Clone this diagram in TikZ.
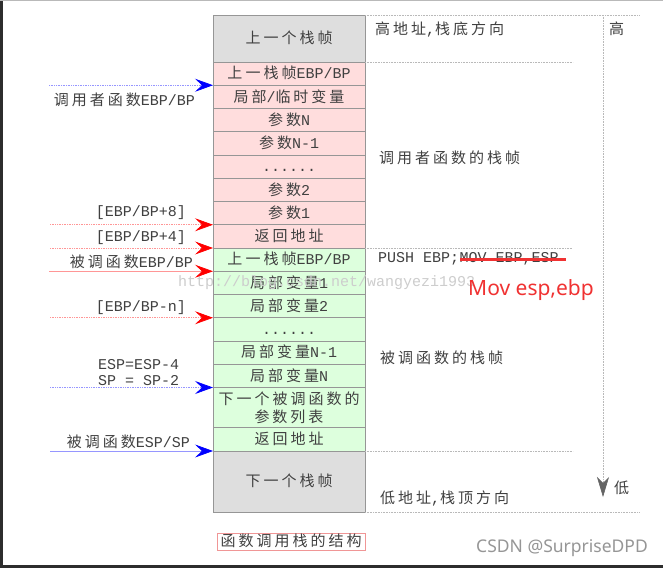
\documentclass[tikz,border=0pt]{standalone}
\usepackage{fontspec}
\setmainfont[LetterSpace=20]{Noto Sans CJK SC}
\newfontfamily\latn{Liberation Mono}
\newfontfamily\sansf{Noto Sans}
\usetikzlibrary{arrows.meta,positioning}
\definecolor{txt}{RGB}{64,64,64}
\definecolor{pinkfill}{RGB}{255,221,221}
\definecolor{greenfill}{RGB}{221,255,221}
\definecolor{grayfill}{RGB}{222,222,222}
\definecolor{cellline}{RGB}{150,150,150}
\definecolor{guidegray}{RGB}{185,185,185}
\definecolor{lblue}{RGB}{150,150,255}
\definecolor{lred}{RGB}{255,150,150}
\definecolor{tipgray}{RGB}{100,100,100}
\definecolor{wm}{RGB}{205,205,205}
\definecolor{redtxt}{RGB}{240,50,50}
\definecolor{capbox}{RGB}{240,150,150}
\definecolor{csdn}{RGB}{150,150,150}
\definecolor{frame}{RGB}{45,45,45}
\begin{document}
\begin{tikzpicture}[x=1pt,y=-1pt,
  fs/.style={font=\fontsize{15pt}{18pt}\selectfont},
  cellbase/.style={fs, draw=cellline, line width=0.6pt, minimum width=152pt, inner sep=0pt, outer sep=0pt, text=txt, anchor=north, align=center},
  cell/.style={cellbase, text height=12.5pt, text depth=2pt},
  pinkc/.style={cell, fill=pinkfill, minimum height=23.25pt},
  greenc/.style={cell, fill=greenfill, minimum height=23.25pt},
  grayc/.style={cell, fill=grayfill},
  lbl/.style={fs, text=txt, inner sep=0pt},
  guide/.style={draw=guidegray, densely dotted, line width=0.6pt},
  bptr/.style={line width=0.7pt, -{Stealth[length=18pt,width=13pt,inset=7pt,color=blue]}},
  rptr/.style={line width=0.7pt, -{Stealth[length=18pt,width=13pt,inset=7pt,color=red]}},
]
\useasboundingbox (0,0) rectangle (663,568);
\fill[white] (0,0) rectangle (663,568);
\fill[frame] (0,0) rectangle (2.5,568);
\fill[frame] (0,565) rectangle (663,568);
\draw[guidegray, line width=0.6pt] (0,0.4) -- (663,0.4);

% stack column
\node[grayc, minimum height=47pt] (top) at (289,15) {上一个栈帧};
\node[pinkc] (r1) at (top.south) {上一栈帧{\latn EBP/BP}};
\node[pinkc] (r2) at (r1.south) {局部{\latn /}临时变量};
\node[pinkc] (r3) at (r2.south) {参数{\latn N}};
\node[pinkc] (r4) at (r3.south) {参数{\latn N-1}};
\node[pinkc] (r5) at (r4.south) {{\latn ......}};
\node[pinkc] (r6) at (r5.south) {参数{\latn 2}};
\node[pinkc] (r7) at (r6.south) {参数{\latn 1}};
\node[pinkc] (r8) at (r7.south) {返回地址};
\node[greenc] (g1) at (r8.south) {上一栈帧{\latn EBP/BP}};
\node[greenc] (g2) at (g1.south) {局部变量{\latn 1}};
\node[greenc] (g3) at (g2.south) {局部变量{\latn 2}};
\node[greenc] (g4) at (g3.south) {{\latn ......}};
\node[greenc] (g5) at (g4.south) {局部变量{\latn N-1}};
\node[greenc] (g6) at (g5.south) {局部变量{\latn N}};
\node[cellbase, fill=greenfill, minimum height=40.25pt, font=\fontsize{15pt}{18pt}\selectfont] (g7) at (g6.south) {下一个被调函数的\\参数列表};
\node[greenc] (g8) at (g7.south) {返回地址};
\node[grayc, minimum height=61pt] (bot) at (g8.south) {下一个栈帧};

% right guides
\coordinate (e1) at (640,15);
\coordinate (e2) at (573,62);
\coordinate (e3) at (572,248);
\coordinate (e4) at (573,451);
\coordinate (e5) at (640,512);
\draw[guide] (top.north east) -- (e1);
\draw[guide] (top.south east) -- (e2);
\draw[guide] (r8.south east) -- (e3);
\draw[guide] (g8.south east) -- (e4);
\draw[guide] (bot.south east) -- (e5);
\coordinate (vtop) at (603,15);
\coordinate (vbot) at (603,497);
\draw[guide, -{Stealth[length=20pt,width=12pt,inset=6pt,color=tipgray]}] (vtop) -- (vbot);
\node[lbl, anchor=west] (hi) at (609,29) {高};
\node[lbl, anchor=west] (lo) at (614,488) {低};

% right texts
\node[lbl, anchor=west] (t1) at (375,29) {高地址{\latn ,}栈底方向};
\node[lbl, anchor=west] (t2) at (379,158) {调用者函数的栈帧};
\node[lbl, anchor=west] (push) at (378,259) {{\latn PUSH EBP;}};
\node[lbl, anchor=west] (mov) at (push.east) {{\latn MOV EBP,ESP}};
\node[lbl, anchor=west] (t3) at (380,358) {被调函数的栈帧};
\node[lbl, anchor=west] (t4) at (380,498) {低地址{\latn ,}栈顶方向};

% watermark
\node[inner sep=0pt, anchor=west, text=wm, font=\latn\fontsize{15pt}{17pt}\selectfont] (wmk) at (178,283) {http://blog.csdn.net/wangyezi1993};

\draw[redtxt, line width=3pt] ([xshift=1pt]mov.west) -- ([xshift=7pt]mov.east);
\node[inner sep=0pt, anchor=west, text=redtxt, font=\sansf\fontsize{21pt}{24pt}\selectfont] (fix) at (468,290) {Mov esp,ebp};

% left pointers
\path (r1.south west) ++(-164,0) coordinate (c1);
\path (r7.south west) ++(-163,0) coordinate (c2);
\path (r8.south west) ++(-163,0) coordinate (c3);
\path (g1.south west) ++(-164,0) coordinate (c4);
\path (g3.south west) ++(-163,0) coordinate (c5);
\path (g6.south west) ++(-163,0) coordinate (c6);
\path (g8.south west) ++(-163,0) coordinate (c7);
\draw[bptr, draw=lblue, densely dotted] (c1) -- (r1.south west);
\draw[rptr, draw=lred, densely dotted] (c2) -- (r7.south west);
\draw[rptr, draw=lred, densely dotted] (c3) -- (r8.south west);
\draw[rptr, draw=lred] (c4) -- (g1.south west);
\draw[rptr, draw=lred, densely dotted] (c5) -- (g3.south west);
\draw[bptr, draw=lblue, densely dotted] (c6) -- (g6.south west);
\draw[bptr, draw=lblue] (c7) -- (g8.south west);

\node[lbl, anchor=east] (l1) at (195,100) {调用者函数{\latn EBP/BP}};
\node[lbl, anchor=east] (l2) at (186,213) {{\latn [EBP/BP+8]}};
\node[lbl, anchor=east] (l3) at (186,238) {{\latn [EBP/BP+4]}};
\node[lbl, anchor=east] (l4) at (193,262) {被调函数{\latn EBP/BP}};
\node[lbl, anchor=east] (l5) at (186,308) {{\latn [EBP/BP-n]}};
\node[lbl, anchor=west, align=left, font=\latn\fontsize{15pt}{16pt}\selectfont] (l6) at (98,373) {ESP=ESP-4\\SP = SP-2};
\node[lbl, anchor=east] (l7) at (190,442) {被调函数{\latn ESP/SP}};

% caption and credit
\node[fs, draw=capbox, line width=0.6pt, text=txt, minimum width=148pt, minimum height=17pt, inner sep=0pt, text height=12.5pt, text depth=2pt] (cap) at (291,541.5) {函数调用栈的结构};
\node[inner sep=0pt, anchor=east, text=csdn, font=\sansf\fontsize{17.5pt}{20pt}\selectfont] (cr) at (648,548) {CSDN @SurpriseDPD};
\end{tikzpicture}
\end{document}
